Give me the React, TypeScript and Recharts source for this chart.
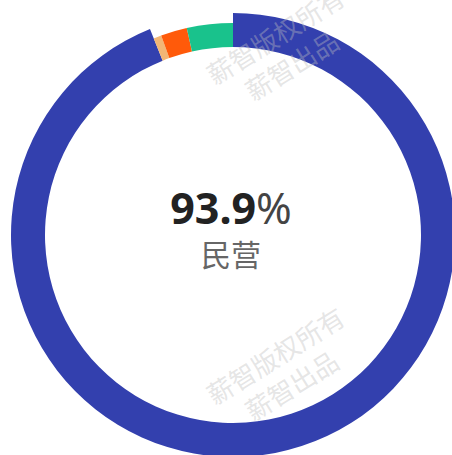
import React from "react";
import { PieChart, Pie, Cell } from "recharts";

const categories = ["民营", "其他", "外资", "国有"];
const shares = [93.9, 0.6, 2.0, 3.5];
const colors = ["#3340ae", "#f2b675", "#ff5a0a", "#19c28c"];
const headline = "93.9";
const headlineLabel = "民营";
const watermarkLines = ["薪智版权所有", "薪智出品"];

const data = categories.map((name, i) => ({ name, value: shares[i] }));

const Watermark = ({ left, top }: { left: number; top: number }) => (
  <div
    style={{
      position: "absolute",
      left,
      top,
      transform: "rotate(-32deg)",
      transformOrigin: "left top",
      color: "rgba(190,190,190,0.4)",
      fontFamily: "'Noto Sans CJK SC', sans-serif",
      fontSize: 26,
      lineHeight: "34px",
      whiteSpace: "nowrap",
      pointerEvents: "none",
    }}
  >
    <div>{watermarkLines[0]}</div>
    <div style={{ paddingLeft: 24 }}>{watermarkLines[1]}</div>
  </div>
);

export default function App() {
  return (
    <div style={{ position: "absolute", left: 0, top: 0, width: 452, height: 455, background: "#fff", overflow: "hidden" }}>
      <PieChart width={452} height={455}>
        <Pie
          data={data}
          dataKey="value"
          cx={228}
          cy={230}
          innerRadius={188}
          outerRadius={222}
          startAngle={90}
          endAngle={-270}
          stroke="none"
          isAnimationActive={false}
        >
          {data.map((d, i) => (
            <Cell key={d.name} fill={i === 0 ? colors[0] : "none"} />
          ))}
        </Pie>
        <Pie
          data={data}
          dataKey="value"
          cx={228}
          cy={230}
          innerRadius={188}
          outerRadius={212}
          startAngle={90}
          endAngle={-270}
          stroke="none"
          isAnimationActive={false}
        >
          {data.map((d, i) => (
            <Cell key={d.name} fill={i === 0 ? "none" : colors[i]} />
          ))}
        </Pie>
      </PieChart>
      <Watermark left={200} top={62} />
      <Watermark left={200} top={382} />
      <div
        style={{
          position: "absolute",
          left: 0,
          width: 462,
          top: 183,
          textAlign: "center",
          fontFamily: "'Noto Sans', 'Noto Sans CJK SC', sans-serif",
          color: "#222",
        }}
      >
        <div style={{ fontSize: 43, lineHeight: "50px" }}>
          <span style={{ fontWeight: 700 }}>{headline}</span>
          <span style={{ fontWeight: 400, color: "#444" }}>%</span>
        </div>
        <div
          style={{
            fontSize: 30,
            lineHeight: "34px",
            marginTop: 3,
            color: "#666",
            fontFamily: "'Noto Sans CJK SC', sans-serif",
          }}
        >
          {headlineLabel}
        </div>
      </div>
    </div>
  );
}
